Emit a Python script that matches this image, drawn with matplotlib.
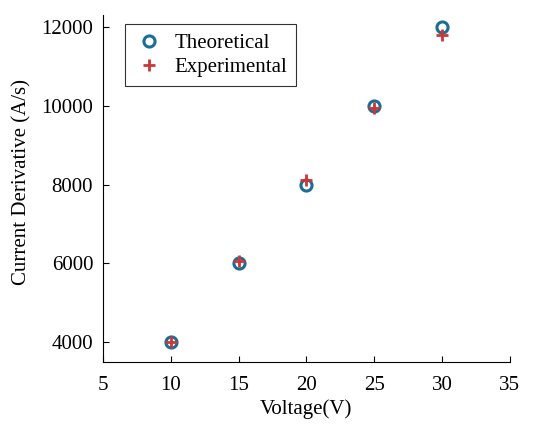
import numpy as np
import matplotlib.pyplot as plt

voltage = [10, 15, 20, 25, 30]
theoretical = [4000, 6000, 8000, 10000, 12000]
experimental = [4010, 6060, 8120, 9950, 11800]

plt.rcParams['font.family'] = ['Liberation Serif', 'DejaVu Serif']

fig = plt.figure(figsize=(5.36, 4.26), dpi=100)
ax = fig.add_axes([0.192, 0.150, 0.759, 0.815])

ax.plot(voltage, theoretical, 'o', mfc='none', mec='#1a6e96', mew=2.2, ms=8,
        label='Theoretical')
ax.plot(voltage, experimental, '+', color='#c8383a', mew=2.0, ms=9,
        label='Experimental')

ax.set_xlim(5, 35)
ax.set_ylim(3500, 12300)
ax.set_xticks([5, 10, 15, 20, 25, 30, 35])
ax.set_yticks([4000, 6000, 8000, 10000, 12000])
ax.spines['top'].set_visible(False)
ax.spines['right'].set_visible(False)
ax.tick_params(direction='in', labelsize=15, length=4, width=0.8)
ax.tick_params(axis='x', pad=10)
ax.tick_params(axis='y', pad=7)
ax.set_xlabel('Voltage(V)', fontsize=15, labelpad=3)
ax.set_ylabel('Current Derivative (A/s)', fontsize=15)
ax.yaxis.set_label_coords(-0.175, 0.52)

leg = ax.legend(loc='upper left', bbox_to_anchor=(0.045, 0.985), fontsize=15,
                frameon=True, fancybox=False, edgecolor='black',
                handletextpad=0.5, borderpad=0.45, labelspacing=0.2,
                handlelength=1.4, borderaxespad=0.2)
leg.get_frame().set_linewidth(0.8)

fig.savefig('out.png', dpi=100)
